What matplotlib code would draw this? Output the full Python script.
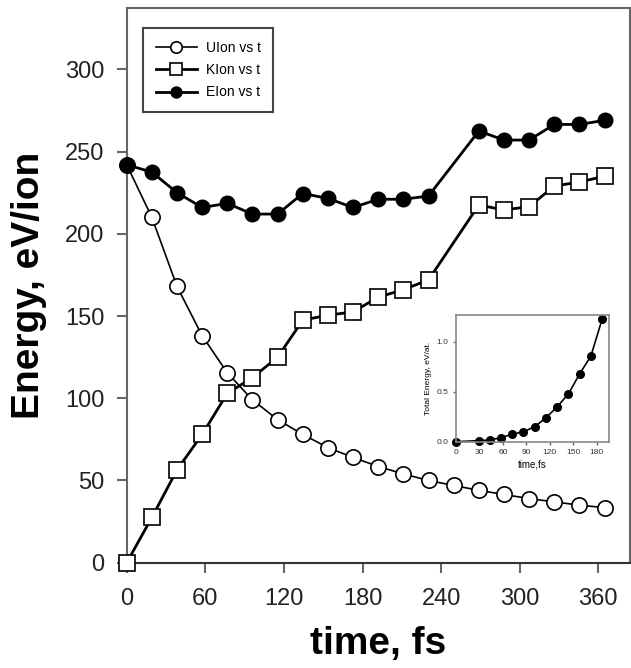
import matplotlib
matplotlib.use('Agg')
import matplotlib.pyplot as plt

plt.rcParams['font.family'] = ['Liberation Sans', 'DejaVu Sans']

# Ion energies vs time (fs, eV/ion)
t_u = [0, 19.2, 38.4, 57.6, 76.8, 96.0, 115.2, 134.4, 153.6, 172.8,
       192.0, 211.2, 230.4, 249.6, 268.8, 288.0, 307.2, 326.4, 345.6, 364.8]
u_ion = [242, 210, 168, 138, 115.5, 99, 87, 78, 70, 64,
         58.5, 54, 50, 47, 44, 41.5, 39, 37, 35, 33.5]

t_ke = [0, 19.2, 38.4, 57.6, 76.8, 96.0, 115.2, 134.4, 153.6, 172.8,
        192.0, 211.2, 230.4, 268.8, 288.0, 307.2, 326.4, 345.6, 364.8]
k_ion = [0, 27.5, 56.5, 78, 103, 112.5, 125, 147.5, 150.5, 152.5,
         161.5, 166, 172, 217.5, 214.5, 216.5, 229, 231.5, 235]
e_ion = [242, 237.5, 225, 216, 218.5, 212, 212, 224.5, 221.5, 216,
         221, 221, 223, 262.5, 257, 257, 266.5, 266.5, 269]

# Inset: total energy per atom
t_tot = [0, 28.8, 43.2, 57.6, 72.0, 86.4, 100.8, 115.2, 129.6, 144.0, 158.4, 172.8, 187.2]
e_tot = [0.0, 0.01, 0.017, 0.04, 0.074, 0.10, 0.15, 0.24, 0.35, 0.48, 0.68, 0.86, 1.23]

x_ticks = [0, 60, 120, 180, 240, 300, 360]
y_ticks = [0, 50, 100, 150, 200, 250, 300]
spine_col = '#666666'

fig = plt.figure(figsize=(6.31, 6.68), dpi=100)
ax = fig.add_axes([0.2008, 0.1576, 0.7972, 0.8297])

ax.plot(t_u, u_ion, '-o', color='black', lw=1.2, ms=11, mfc='white', mec='black',
        mew=1.2, label='UIon vs t', zorder=3, clip_on=False)
ax.plot(t_ke, k_ion, '-s', color='black', lw=2.0, ms=11.5, mfc='white', mec='black',
        mew=1.2, label='KIon vs t', zorder=3, clip_on=False)
ax.plot(t_ke, e_ion, '-o', color='black', lw=2.0, ms=10.5, mfc='black', mec='black',
        label='EIon vs t', zorder=4, clip_on=False)

ax.set_xlim(0, 384)
ax.set_ylim(0, 337)
ax.set_xticks(x_ticks)
ax.set_yticks(y_ticks)
ax.tick_params(direction='out', length=7, width=1.5, color=spine_col,
               labelsize=17, labelcolor='#222222')
ax.tick_params(axis='x', pad=11)
ax.tick_params(axis='y', pad=9)
for s in ax.spines.values():
    s.set_color(spine_col)
    s.set_linewidth(1.5)
ax.spines['bottom'].set_color('#333333')

ax.set_xlabel('time, fs', fontsize=28, fontweight='bold', labelpad=12)
ax.set_ylabel('Energy, eV/ion', fontsize=28, fontweight='bold', labelpad=13)

leg = ax.legend(loc='upper left', bbox_to_anchor=(0.0324, 0.9643), borderaxespad=0,
                fontsize=10, numpoints=1, handlelength=3.0, handletextpad=0.6,
                markerscale=0.75, fancybox=False, framealpha=1,
                edgecolor='#444444', borderpad=0.9, labelspacing=0.6)
leg.get_frame().set_linewidth(1.5)
leg.set_zorder(5)

# inset panel
ins = fig.add_axes([0.7227, 0.3388, 0.2425, 0.1896])
ins.plot(t_tot, e_tot, '-o', color='black', lw=1.2, ms=5.5, clip_on=False)
ins.set_xlim(0, 196)
ins.set_ylim(0, 1.27)
ins.set_xticks([0, 30, 60, 90, 120, 150, 180])
ins.set_yticks([0.0, 0.5, 1.0])
ins.set_yticklabels(['0.0', '0.5', '1.0'])
ins.tick_params(direction='out', length=2.5, width=1, color=spine_col,
                labelsize=6, labelcolor='#333333', pad=3)
for s in ins.spines.values():
    s.set_color('#888888')
    s.set_linewidth(1.2)
ins.set_xlabel('time,fs', fontsize=7, labelpad=2)
ins.set_ylabel('Total Energy, eV/at.', fontsize=6, labelpad=3)

fig.savefig('out.png', dpi=100)
